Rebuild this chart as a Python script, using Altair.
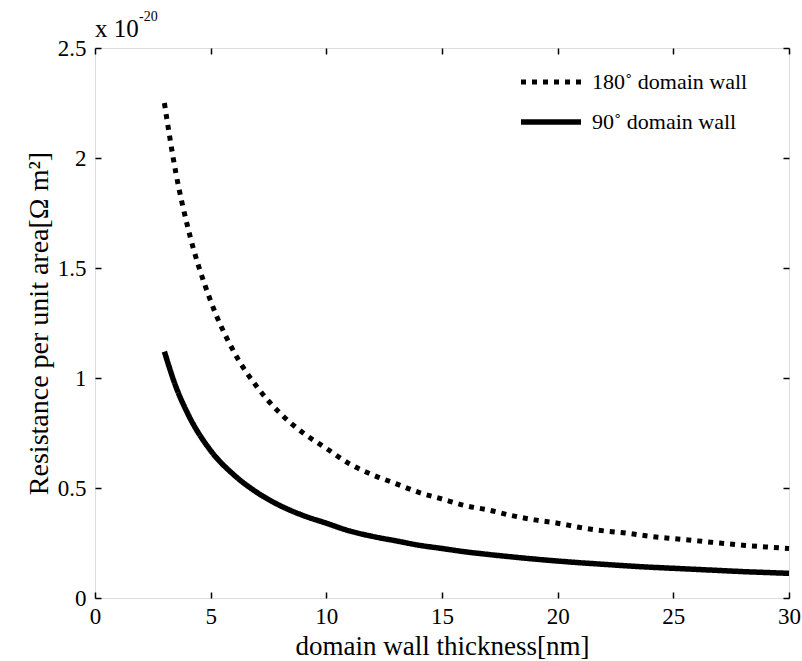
import altair as alt
import pandas as pd

# values (units of 1e-20 Ohm m^2)
thickness = [3, 3.5, 4, 5, 6, 7, 8, 9, 10, 11, 12, 13, 14, 15, 16, 17, 18, 19,
             20, 21, 22, 23, 24, 25, 26, 27, 28, 29, 30]
r180 = [2.25, 1.93, 1.69, 1.35, 1.12, 0.96, 0.84, 0.75, 0.68, 0.61, 0.56, 0.52,
        0.48, 0.45, 0.42, 0.40, 0.375, 0.355, 0.34, 0.32, 0.305, 0.295, 0.28,
        0.27, 0.26, 0.25, 0.24, 0.232, 0.225]
r90 = [1.12, 0.96, 0.84, 0.67, 0.56, 0.48, 0.42, 0.375, 0.34, 0.305, 0.28, 0.26,
       0.24, 0.225, 0.21, 0.198, 0.187, 0.177, 0.168, 0.16, 0.153, 0.146, 0.14,
       0.135, 0.13, 0.125, 0.12, 0.116, 0.112]
series_names = ["180˚ domain wall", "90˚ domain wall"]

rows = []
for name, vals in zip(series_names, [r180, r90]):
    for x, v in zip(thickness, vals):
        rows.append({"t": x, "r": v, "series": name})
df = pd.DataFrame(rows)

FONT = "Liberation Serif"
xscale = alt.Scale(domain=[0, 30], nice=False, zero=False)
yscale = alt.Scale(domain=[0, 2.5], nice=False)
xvals = [0, 5, 10, 15, 20, 25, 30]
yvals = [0, 0.5, 1, 1.5, 2, 2.5]

lines = alt.Chart(df).mark_line(color="black", strokeCap="butt", interpolate="monotone").encode(
    x=alt.X("t:Q", scale=xscale,
            axis=alt.Axis(orient="bottom", values=xvals, offset=-6, tickSize=6, tickWidth=1.5,
                          tickColor="black", domain=False, grid=False, labelPadding=7,
                          labelFont=FONT, labelFontSize=23, labelFontWeight="normal",
                          labelColor="black", labelFlush=False,
                          title="domain wall thickness[nm]", titleFont=FONT, titleFontSize=27,
                          titleFontWeight="normal", titleColor="black", titlePadding=5)),
    y=alt.Y("r:Q", scale=yscale,
            axis=alt.Axis(orient="left", values=yvals, offset=-6, tickSize=6, tickWidth=1.5,
                          tickColor="black", domain=False, grid=False, labelPadding=9,
                          format="~g", labelFont=FONT, labelFontSize=23, labelFontWeight="normal",
                          labelColor="black", labelFlush=False,
                          title="Resistance per unit area[Ω m²]", titleFont=FONT,
                          titleFontSize=28, titleFontWeight="normal", titleColor="black",
                          titleX=-62, titleBaseline="middle")),
    strokeDash=alt.StrokeDash("series:N",
                              scale=alt.Scale(domain=series_names, range=[[5, 6], [1, 0]]),
                              legend=alt.Legend(orient="none", legendX=423, legendY=22,
                                                title=None, symbolType="stroke",
                                                symbolSize=3600, symbolStrokeWidth=5,
                                                symbolStrokeColor="black", clipHeight=24,
                                                rowPadding=16, labelOffset=8,
                                                labelFont=FONT, labelFontSize=22,
                                                labelFontWeight="normal", labelColor="black",
                                                padding=0)),
    strokeWidth=alt.StrokeWidth("series:N",
                                scale=alt.Scale(domain=series_names, range=[5, 5.5]),
                                legend=None),
)

frame_ticks = alt.Chart(df).mark_line(opacity=0).encode(
    x=alt.X("t:Q", scale=xscale,
            axis=alt.Axis(orient="top", values=xvals, offset=-6, tickSize=6, tickWidth=1.5,
                          tickColor="black", domain=False, grid=False, labels=False,
                          title=None)),
    y=alt.Y("r:Q", scale=yscale,
            axis=alt.Axis(orient="right", values=yvals, offset=-6, tickSize=6, tickWidth=1.5,
                          tickColor="black", domain=False, grid=False, labels=False,
                          title=None)),
    detail="series:N",
)

one = pd.DataFrame({"k": [0]})
exp_base = alt.Chart(one).mark_text(font=FONT, fontSize=25, fontWeight="normal", align="left",
                                    baseline="alphabetic", color="black").encode(
    x=alt.value(0), y=alt.value(-11), text=alt.value("x 10"))
exp_sup = alt.Chart(one).mark_text(font=FONT, fontSize=14, fontWeight="normal", align="left",
                                   baseline="alphabetic", color="black").encode(
    x=alt.value(44), y=alt.value(-27), text=alt.value("-20"))

chart = alt.layer(lines, frame_ticks, exp_base, exp_sup).resolve_axis(
    x="independent", y="independent"
).resolve_scale(x="shared", y="shared").properties(
    width=694, height=550,
    autosize=alt.AutoSizeParams(type="none"),
    padding={"left": 95, "top": 48, "right": 13, "bottom": 63},
).configure_view(stroke="black", strokeWidth=1.5).configure(background="white")

chart.save("out.html", embed_options={"renderer": "svg", "actions": False})
